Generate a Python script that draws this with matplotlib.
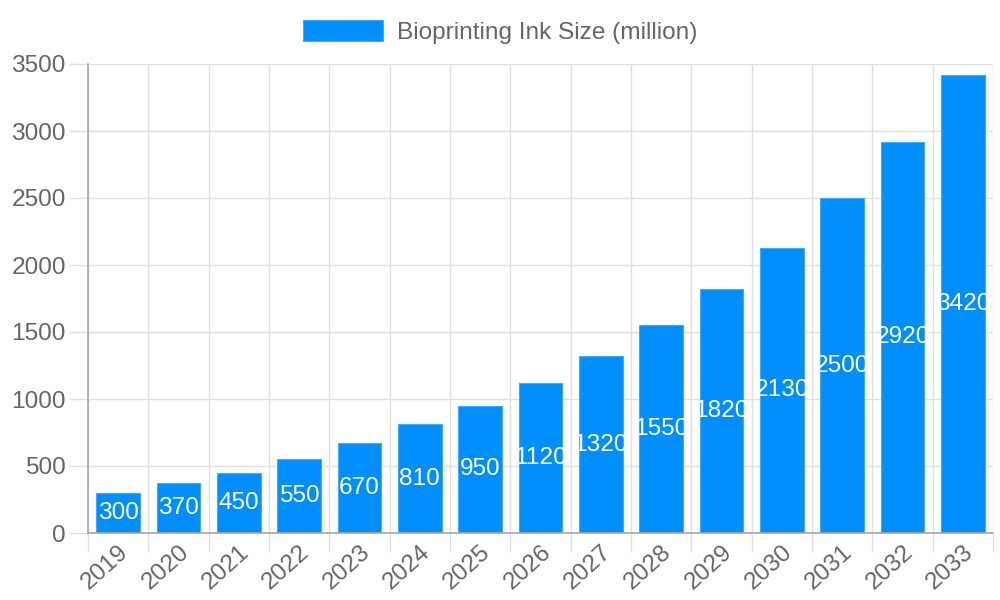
import matplotlib
matplotlib.use("Agg")
import matplotlib.pyplot as plt
import numpy as np

plt.rcParams["font.family"] = ["Liberation Sans", "DejaVu Sans"]

years = ["2019", "2020", "2021", "2022", "2023", "2024", "2025", "2026",
         "2027", "2028", "2029", "2030", "2031", "2032", "2033"]
ink_size = [300, 370, 450, 550, 670, 810, 950, 1120,
            1320, 1550, 1820, 2130, 2500, 2920, 3420]
series_label = "Bioprinting Ink Size (million)"

BAR_COLOR = "#038ffb"
GRID = "#e0e0e0"
AXIS = "#a8a8a8"
TEXT = "#666666"
FS = 17.6

fig = plt.figure(figsize=(10, 6), dpi=100)
ax = fig.add_axes([0.088, (600 - 533) / 600, 0.905, (533 - 64) / 600])

x = np.arange(len(years))
bars = ax.bar(x, ink_size, width=0.72, color=BAR_COLOR, edgecolor="#4aa9f7",
              linewidth=0.8, zorder=2, label=series_label)

# value labels sit at the middle of each bar and get clipped by it
for b, v in zip(bars, ink_size):
    t = ax.text(b.get_x() + b.get_width() / 2, v / 2, str(v), color="white",
                fontsize=FS, ha="center", va="center", zorder=3)
    t.set_clip_path(b)

ax.set_xlim(-0.5, len(years) - 0.5)
ax.set_ylim(0, 3500)
ax.set_yticks(np.arange(0, 3501, 500))
ax.set_xticks(x)
ax.set_xticklabels(years, rotation=42, ha="right", rotation_mode="anchor")
ax.set_xticks(np.arange(-0.5, len(years)), minor=True)

ax.tick_params(axis="x", which="major", length=0, pad=6, labelsize=FS, labelcolor=TEXT)
ax.tick_params(axis="x", which="minor", length=14, width=1, color=GRID)
ax.tick_params(axis="y", length=14, width=1, color=GRID, pad=2, labelsize=FS, labelcolor=TEXT)

ax.grid(True, axis="y", color=GRID, linewidth=1, zorder=0)
ax.grid(True, axis="x", which="minor", color=GRID, linewidth=1, zorder=0)

for side in ["top", "right"]:
    ax.spines[side].set_visible(False)
ax.spines["left"].set_color(AXIS)
ax.spines["bottom"].set_color(AXIS)
ax.spines["left"].set_linewidth(1.2)
ax.spines["bottom"].set_linewidth(1.2)

fig.legend(handles=[bars], labels=[series_label], loc="center",
           bbox_to_anchor=(0.5, 1 - 32 / 600), frameon=False,
           fontsize=FS, labelcolor=TEXT, handlelength=3.3, handleheight=0.95,
           handletextpad=0.55, borderpad=0)

fig.savefig("out.png", dpi=100)
